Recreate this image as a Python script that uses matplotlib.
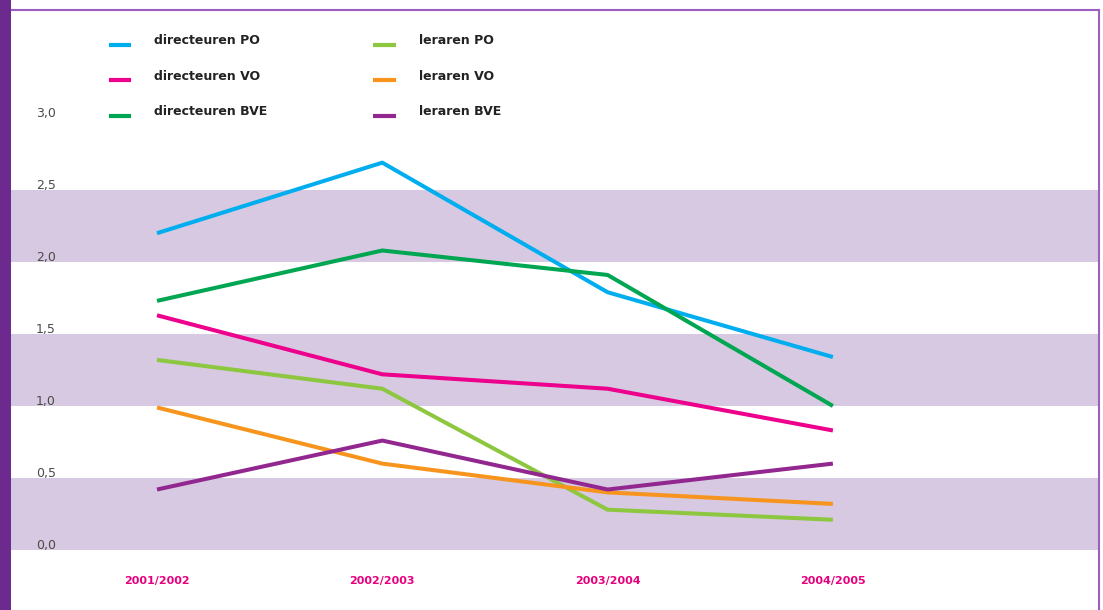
import matplotlib
matplotlib.use("Agg")
import matplotlib.pyplot as plt
import matplotlib.transforms as mtransforms
from matplotlib.lines import Line2D

years = ["2001/2002", "2002/2003", "2003/2004", "2004/2005"]
series_names = ["directeuren PO", "directeuren VO", "directeuren BVE",
                "leraren PO", "leraren VO", "leraren BVE"]
directeuren_po = [2.20, 2.69, 1.79, 1.34]
directeuren_vo = [1.63, 1.22, 1.12, 0.83]
directeuren_bve = [1.73, 2.08, 1.91, 1.00]
leraren_po = [1.32, 1.12, 0.28, 0.21]
leraren_vo = [0.99, 0.60, 0.40, 0.32]
leraren_bve = [0.42, 0.76, 0.42, 0.60]
y_ticks = [0.0, 0.5, 1.0, 1.5, 2.0, 2.5, 3.0]
y_tick_labels = ["0,0", "0,5", "1,0", "1,5", "2,0", "2,5", "3,0"]
bands = [(0.0, 0.5), (1.0, 1.5), (2.0, 2.5)]

colors = ["#00aeef", "#ec008c", "#00a651", "#8dc63f", "#f7941d", "#92278f"]
values = [directeuren_po, directeuren_vo, directeuren_bve,
          leraren_po, leraren_vo, leraren_bve]

W, H = 1103, 610
fig = plt.figure(figsize=(W / 100, H / 100), dpi=100)
fig.patch.set_facecolor("white")

ax_l, ax_r, ax_t, ax_b = 11, 1098, 10, 610
ax = fig.add_axes([ax_l / W, 1 - ax_b / H, (ax_r - ax_l) / W, (ax_b - ax_t) / H])
ax.set_facecolor("white")
px_per_unit = 144.0
y0 = 550
ax.set_ylim((y0 - ax_b) / px_per_unit, (y0 - ax_t) / px_per_unit)
x0, dx = 157, 225.3
ax.set_xlim((ax_l - x0) / dx, (ax_r - x0) / dx)

for lo, hi in bands:
    ax.axhspan(lo, hi, color="#d6c9e1", lw=0, zorder=0)

xs = list(range(len(years)))
for name, vals, c in zip(series_names, values, colors):
    ax.plot(xs, vals, color=c, lw=2.9, solid_capstyle="butt", zorder=3, label=name)

for s in ax.spines.values():
    s.set_visible(False)
ax.set_xticks([])
ax.set_yticks([])

# y tick labels (inside, left aligned, slightly above gridline)
trans = mtransforms.blended_transform_factory(fig.transFigure, ax.transData)
trans = trans + mtransforms.ScaledTranslation(0, 5 / 100, fig.dpi_scale_trans)
for v, lab in zip(y_ticks, y_tick_labels):
    ax.text(36 / W, v, lab, transform=trans, ha="left", va="center",
            fontsize=9, color="#4a4a4a")

# x labels
tx = mtransforms.blended_transform_factory(ax.transData, fig.transFigure)
for i, lab in enumerate(years):
    ax.text(i, 1 - 581 / H, lab, transform=tx, ha="center", va="center",
            fontsize=8, fontweight="bold", color="#e6007e")

# legend (manual)
col_line_x = [(109, 131), (373, 396)]
col_text_x = [154, 419]
row_y = [45, 80, 116]
for k, (name, c) in enumerate(zip(series_names, colors)):
    col, row = divmod(k, 3)
    x1, x2 = col_line_x[col]
    yy = 1 - row_y[row] / H
    fig.add_artist(Line2D([x1 / W, x2 / W], [yy, yy], transform=fig.transFigure,
                          color=c, lw=3, solid_capstyle="butt"))
    fig.text(col_text_x[col] / W, 1 - (row_y[row] - 4) / H, name, ha="left",
             va="center", fontsize=9, fontweight="bold", color="#222222")

# frame decorations
fig.add_artist(plt.Rectangle((0, 0), 11 / W, 1, transform=fig.transFigure,
                             color="#6c2a8e", lw=0, zorder=5))
fig.add_artist(Line2D([11 / W, 1099 / W], [1 - 10 / H, 1 - 10 / H],
                      transform=fig.transFigure, color="#9b5fc0", lw=1.5))
fig.add_artist(Line2D([1098.5 / W, 1098.5 / W], [0, 1 - 10 / H],
                      transform=fig.transFigure, color="#9b5fc0", lw=1.5))

fig.savefig("out.png", dpi=100, facecolor="white")
